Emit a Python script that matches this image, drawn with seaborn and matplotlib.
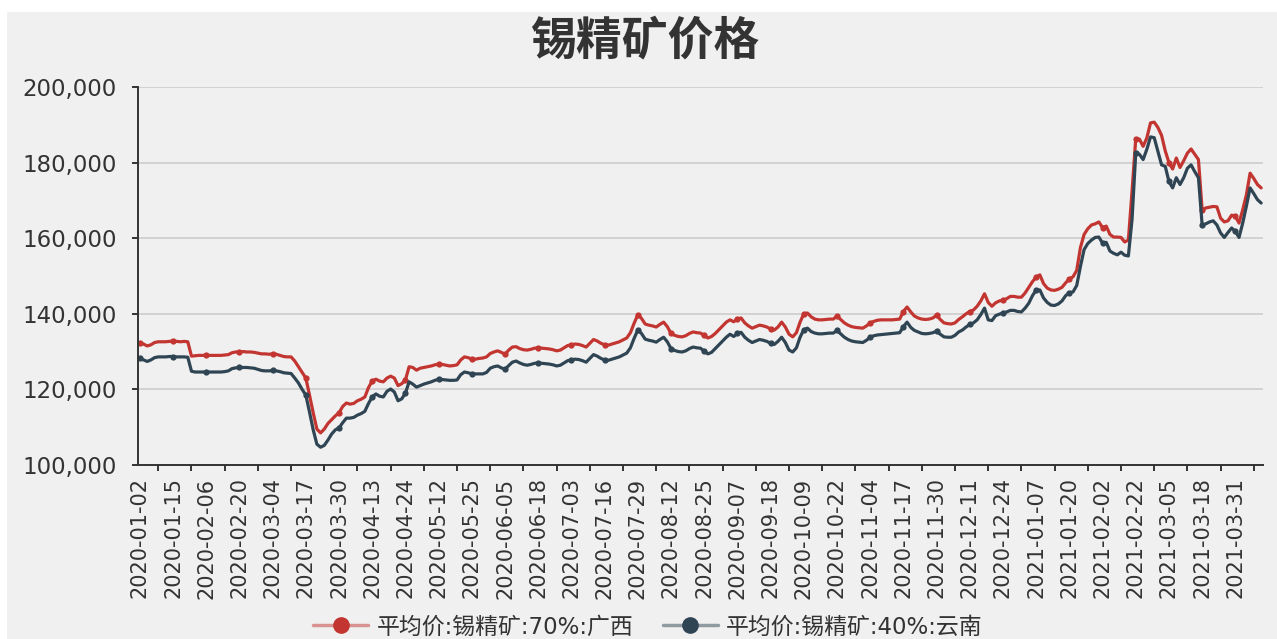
import numpy as np
import pandas as pd
import seaborn as sns
import matplotlib.pyplot as plt
from matplotlib.lines import Line2D
from matplotlib.patches import Rectangle
from matplotlib.ticker import FuncFormatter

# tick labels shown on the category axis (every 9th trading day)
tick_dates = ["2020-01-02", "2020-01-15", "2020-02-06", "2020-02-20", "2020-03-04",
              "2020-03-17", "2020-03-30", "2020-04-13", "2020-04-24", "2020-05-12",
              "2020-05-25", "2020-06-05", "2020-06-18", "2020-07-03", "2020-07-16",
              "2020-07-29", "2020-08-12", "2020-08-25", "2020-09-07", "2020-09-18",
              "2020-10-09", "2020-10-22", "2020-11-04", "2020-11-17", "2020-11-30",
              "2020-12-11", "2020-12-24", "2021-01-07", "2021-01-20", "2021-02-02",
              "2021-02-22", "2021-03-05", "2021-03-18", "2021-03-31"]

series_names = ["平均价:锡精矿:70%:广西", "平均价:锡精矿:40%:云南"]

# prices in thousand yuan / ton, one value per trading day
gx_70 = [132.3, 132.0, 131.5, 131.8, 132.4, 132.6, 132.6, 132.6, 132.7, 132.8,
         132.7, 132.6, 132.7, 132.6, 128.8, 128.9, 129.0, 129.0, 129.0, 129.0,
         129.0, 129.0, 129.0, 129.1, 129.2, 129.7, 129.9, 129.9, 130.0, 129.9,
         129.9, 129.8, 129.6, 129.4, 129.4, 129.3, 129.4, 129.3, 129.0, 128.7,
         128.6, 128.6, 127.5, 126.0, 124.5, 123.0, 118.5, 113.8, 109.5, 108.5,
         109.5, 111.0, 112.0, 113.0, 113.8, 115.5, 116.4, 116.1, 116.3, 117.0,
         117.4, 118.0, 120.5, 122.2, 122.7, 122.2, 122.0, 123.0, 123.5, 123.0,
         121.0, 121.5, 122.5, 126.0, 125.8, 125.1, 125.6, 125.8, 126.0, 126.2,
         126.5, 126.7, 126.6, 126.4, 126.2, 126.3, 126.5, 127.8, 128.6, 128.4,
         128.0, 128.0, 128.2, 128.3, 128.6, 129.5, 129.9, 130.2, 129.8, 129.3,
         130.4, 131.2, 131.3, 130.8, 130.5, 130.4, 130.6, 130.9, 131.0, 130.9,
         130.8, 130.7, 130.5, 130.2, 130.4, 131.0, 131.6, 131.8, 132.0, 131.9,
         131.6, 131.2, 132.2, 133.2, 132.8, 132.2, 131.8, 131.7, 132.0, 132.3,
         132.6, 133.1, 133.6, 135.0, 137.5, 139.7, 138.8, 137.3, 137.0, 136.8,
         136.5, 137.2, 137.8, 136.6, 134.8, 134.3, 134.0, 133.9, 134.2, 134.8,
         135.2, 135.0, 134.9, 134.3, 133.6, 134.0, 134.8, 135.8, 136.8, 137.8,
         138.4, 137.9, 138.6, 138.9, 137.6, 136.8, 136.2, 136.6, 137.0, 136.8,
         136.5, 136.0, 135.7, 136.5, 137.8, 136.5, 134.6, 133.9, 135.0, 137.8,
         140.0, 140.2, 139.2, 138.6, 138.4, 138.4, 138.5, 138.6, 138.6, 139.4,
         138.5, 137.6, 137.0, 136.6, 136.4, 136.3, 136.2, 136.8, 137.6, 138.0,
         138.3, 138.4, 138.4, 138.4, 138.4, 138.5, 138.6, 140.6, 141.8, 140.5,
         139.4, 138.9, 138.6, 138.5, 138.6, 138.9, 139.6, 138.5, 137.6, 137.4,
         137.3, 137.6, 138.5, 139.2, 140.0, 140.6, 141.0, 142.0, 143.4, 145.3,
         143.0, 142.0, 142.9, 143.4, 143.6, 144.0, 144.6, 144.6, 144.4, 144.4,
         145.5, 147.0, 148.5, 149.7, 150.3, 148.0, 146.8, 146.3, 146.2, 146.5,
         147.0, 148.2, 149.2, 149.8, 151.5, 157.5, 161.0, 162.5, 163.5, 163.8,
         164.3, 162.8, 163.2, 161.0, 160.3, 160.3, 160.2, 159.0, 159.5, 172.5,
         186.3, 186.2, 184.3, 186.5, 190.5, 190.7, 189.3, 187.2, 183.1, 180.0,
         178.3, 181.2, 178.7, 180.5, 182.5, 183.6, 182.2, 180.8, 167.5, 168.0,
         168.2, 168.4, 168.3, 165.3, 164.3, 164.6, 166.1, 165.8, 164.0, 167.5,
         171.5, 177.2, 175.8, 174.2, 173.3]

yn_40 = [128.2, 127.8, 127.4, 127.8, 128.4, 128.6, 128.6, 128.6, 128.7, 128.7,
         128.6, 128.6, 128.6, 128.5, 124.8, 124.6, 124.6, 124.6, 124.6, 124.6,
         124.6, 124.6, 124.6, 124.7, 124.9, 125.5, 125.7, 125.8, 125.8, 125.8,
         125.7, 125.6, 125.3, 125.0, 124.9, 124.9, 125.0, 124.9, 124.7, 124.4,
         124.3, 124.2, 123.0, 121.7, 120.0, 118.5, 114.0, 109.3, 105.5, 104.7,
         105.2, 106.6, 108.2, 109.3, 109.8, 111.2, 112.4, 112.4, 112.6, 113.2,
         113.6, 114.2, 116.3, 118.0, 118.8, 118.2, 118.0, 119.5, 120.1, 119.3,
         117.0, 117.5, 119.0, 122.0, 121.4, 120.6, 121.0, 121.4, 121.7, 122.0,
         122.4, 122.7, 122.6, 122.5, 122.4, 122.4, 122.5, 123.9, 124.6, 124.4,
         124.1, 124.1, 124.1, 124.1, 124.5, 125.6, 126.0, 126.2, 125.7, 125.3,
         126.3, 127.2, 127.5, 127.0, 126.6, 126.4, 126.6, 126.9, 127.0, 126.9,
         126.8, 126.7, 126.5, 126.2, 126.4, 127.0, 127.6, 127.8, 128.0, 127.9,
         127.6, 127.2, 128.2, 129.2, 128.8, 128.2, 127.8, 127.7, 128.0, 128.3,
         128.6, 129.1, 129.6, 131.0, 133.5, 135.7, 134.8, 133.3, 133.0, 132.8,
         132.5, 133.2, 133.8, 132.6, 130.8, 130.3, 130.0, 129.9, 130.2, 130.8,
         131.2, 131.0, 130.9, 130.1, 129.4, 129.8, 130.8, 131.8, 132.8, 133.8,
         134.6, 134.0, 134.8, 135.1, 133.8, 133.0, 132.4, 132.8, 133.2, 133.0,
         132.7, 132.2, 131.9, 132.7, 133.8, 132.4, 130.4, 129.9, 131.0, 133.8,
         135.8, 136.2, 135.3, 134.9, 134.7, 134.7, 134.8, 134.9, 134.9, 135.6,
         134.7, 133.8, 133.2, 132.8, 132.6, 132.5, 132.4, 133.0, 133.8, 134.2,
         134.4, 134.5, 134.6, 134.7, 134.8, 134.9, 135.0, 136.6, 137.8, 136.4,
         135.6, 135.2, 134.8, 134.7, 134.8, 135.0, 135.4, 134.6, 133.9, 133.8,
         133.8, 134.3, 135.2, 135.7, 136.5, 137.2, 137.6, 138.4, 139.8, 141.5,
         138.4, 138.2, 139.5, 139.9, 140.2, 140.5, 140.9, 140.9, 140.6, 140.5,
         141.5, 142.8, 144.8, 146.3, 146.3, 144.2, 143.0, 142.3, 142.2, 142.6,
         143.4, 144.8, 145.6, 145.8, 147.5, 152.5, 157.0, 158.6, 159.5, 160.2,
         160.3, 158.7, 158.9, 156.6, 156.0, 155.6, 156.3, 155.5, 155.3, 165.0,
         182.5, 182.2, 180.8, 183.5, 186.8, 186.6, 183.0, 179.4, 179.0, 175.0,
         173.3, 176.0, 174.2, 176.0, 178.5, 179.4, 177.6, 176.0, 163.5, 163.8,
         164.3, 164.6, 163.5, 161.4, 160.2, 161.5, 162.7, 161.8, 160.2, 164.0,
         168.5, 173.3, 171.8, 170.2, 169.3]

colors = ["#c23531", "#2f4554"]

sns.set_theme(style="white")
plt.rcParams["font.family"] = ["DejaVu Sans", "Noto Sans CJK SC"]

df = pd.DataFrame({
    "idx": np.arange(len(gx_70)),
    series_names[0]: np.array(gx_70) * 1000,
    series_names[1]: np.array(yn_40) * 1000,
})
n = len(df)

W, H = 1277, 639
fig = plt.figure(figsize=(W / 100, H / 100), dpi=100, facecolor="white")
# grey panel (the screenshot has a thin white border top/left)
fig.patches.append(Rectangle((7 / W, 0), 1 - 7 / W, 1 - 12 / H, transform=fig.transFigure,
                             facecolor="#f0f0f0", edgecolor="none", zorder=-10))

ax = fig.add_axes([138 / W, 1 - 465 / H, 1125 / W, 378 / H])
ax.set_facecolor("none")

for name, c in zip(series_names, colors):
    sns.lineplot(data=df, x="idx", y=name, ax=ax, color=c, lw=2.3, marker="o",
                 markersize=4.5, markeredgewidth=0, markevery=9, legend=False)

ax.set_xlim(-0.5, n - 0.5)
ax.set_ylim(100000, 200000)
ax.set_yticks(np.arange(100000, 200001, 20000))
ax.yaxis.set_major_formatter(FuncFormatter(lambda v, p: f"{int(v):,}"))
ax.yaxis.grid(True, color="#cccccc", lw=1.2)
ax.xaxis.grid(False)
ax.set_xlabel("")
ax.set_ylabel("")

ax.set_xticks(np.arange(len(tick_dates)) * 9)
ax.set_xticklabels(tick_dates, rotation=90)
ax.set_xticks(np.arange(5, n, 9), minor=True)
ax.tick_params(axis="x", which="major", length=0, pad=9, labelsize=15, labelcolor="#333333")
ax.tick_params(axis="x", which="minor", bottom=True, length=4.5, width=1.4, color="#333333")
ax.tick_params(axis="y", which="major", left=True, length=4.5, width=1.4, color="#333333",
               pad=11, labelsize=16.5, labelcolor="#333333")

for s in ["top", "right"]:
    ax.spines[s].set_visible(False)
for s in ["left", "bottom"]:
    ax.spines[s].set_color("#333333")
    ax.spines[s].set_linewidth(1.4)

fig.text(645 / W, 1 - 42 / H, "锡精矿价格", ha="center", va="center", fontsize=33,
         fontweight="bold", color="#333333")

handles = []
for c in colors:
    handles.append((Line2D([], [], color=c, alpha=0.5, lw=2.5),
                    Line2D([], [], color=c, marker="o", ms=11, ls="none")))
fig.legend(handles, series_names, loc="center", bbox_to_anchor=(648 / W, 1 - 627 / H),
           ncol=2, frameon=False, fontsize=16.5, handlelength=2.4, handletextpad=0.35,
           columnspacing=1.3, labelcolor="#333333")

fig.savefig("out.png", dpi=100, facecolor=fig.get_facecolor())
